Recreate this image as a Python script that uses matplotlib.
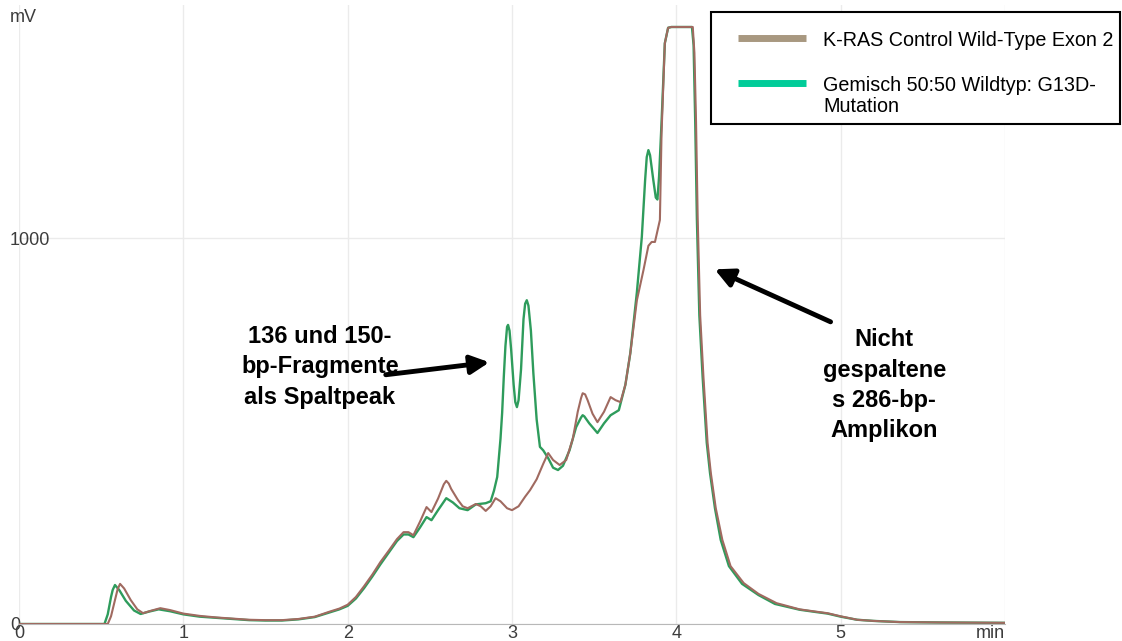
import matplotlib.pyplot as plt
from matplotlib.patches import Rectangle
from matplotlib.lines import Line2D

plt.rcParams['font.family'] = ['Liberation Sans', 'DejaVu Sans']

# Chromatogram: K-RAS control (wild type)
t_control = [0.00, 0.54, 0.56, 0.58, 0.60, 0.615, 0.64, 0.68, 0.72, 0.755, 0.80, 0.86, 0.92,
             1.00, 1.10, 1.20, 1.30, 1.40, 1.50, 1.60, 1.70, 1.80, 1.89, 1.95, 2.00, 2.05,
             2.10, 2.15, 2.20, 2.25, 2.30, 2.34, 2.37, 2.40, 2.44, 2.48, 2.51, 2.55, 2.585,
             2.60, 2.615, 2.63, 2.67, 2.70, 2.73, 2.78, 2.81, 2.84, 2.87, 2.90, 2.93, 2.97,
             3.00, 3.04, 3.08, 3.11, 3.15, 3.19, 3.22, 3.25, 3.29, 3.33, 3.37, 3.40, 3.42,
             3.43, 3.445, 3.46, 3.49, 3.52, 3.56, 3.60, 3.63, 3.66, 3.69, 3.72, 3.76, 3.80,
             3.83, 3.85, 3.87, 3.90, 3.91, 3.93, 3.95, 3.97, 4.00, 4.10, 4.11, 4.12, 4.13,
             4.145, 4.165, 4.19, 4.21, 4.24, 4.28, 4.33, 4.41, 4.50, 4.61, 4.75, 4.85,
             4.92, 5.00, 5.10, 5.20, 5.36, 5.60, 6.00]
mv_control = [0, 0, 20, 55, 90, 104, 92, 62, 38, 28, 34, 41, 36,
              27, 21, 17, 14, 11, 10, 10, 13, 19, 32, 40, 50, 70,
              98, 128, 161, 190, 220, 238, 238, 230, 265, 303, 290, 325, 362,
              371, 364, 350, 322, 305, 300, 311, 305, 293, 305, 326, 318, 300,
              295, 305, 330, 347, 375, 415, 443, 425, 412, 425, 480, 550, 585,
              598, 595, 580, 545, 523, 550, 588, 580, 575, 620, 702, 839, 917,
              980, 990, 990, 1047, 1272, 1505, 1545, 1547, 1547, 1547, 1480, 1300, 1050,
              800, 640, 470, 391, 300, 218, 150, 106, 78, 54, 38, 32,
              28, 20, 11, 8, 5, 4, 3]

# Chromatogram: 50:50 mixture wild type / G13D
t_mix = [0.00, 0.52, 0.54, 0.56, 0.57, 0.584, 0.61, 0.65, 0.70, 0.74, 0.79, 0.85, 0.92,
         1.00, 1.10, 1.20, 1.30, 1.40, 1.50, 1.60, 1.70, 1.80, 1.89, 1.95, 2.00, 2.05,
         2.10, 2.15, 2.20, 2.25, 2.30, 2.34, 2.37, 2.40, 2.44, 2.48, 2.51, 2.55, 2.60,
         2.64, 2.68, 2.73, 2.78, 2.84, 2.87, 2.89, 2.91, 2.93, 2.94, 2.95, 2.96, 2.97,
         2.976, 2.985, 2.995, 3.01, 3.02, 3.03, 3.04, 3.055, 3.07, 3.08, 3.09, 3.10, 3.115,
         3.13, 3.15, 3.17, 3.19, 3.22, 3.25, 3.28, 3.31, 3.35, 3.39, 3.42, 3.43, 3.44,
         3.47, 3.52, 3.56, 3.60, 3.65, 3.69, 3.72, 3.76, 3.79, 3.81, 3.82, 3.83, 3.84,
         3.86, 3.875, 3.885, 3.895, 3.91, 3.93, 3.95, 3.97, 4.00, 4.095, 4.105, 4.115,
         4.125, 4.14, 4.16, 4.185, 4.205, 4.235, 4.27, 4.32, 4.40, 4.50, 4.60, 4.75,
         4.85, 4.92, 5.00, 5.10, 5.20, 5.36, 5.60, 6.00]
mv_mix = [0, 0, 25, 70, 88, 101, 88, 60, 35, 26, 32, 38, 33,
          25, 19, 16, 13, 10, 9, 9, 12, 18, 30, 38, 47, 66,
          93, 123, 155, 185, 215, 232, 232, 225, 250, 277, 269, 295, 326,
          315, 300, 295, 310, 313, 318, 345, 381, 480, 547, 640, 720, 770,
          775, 760, 710, 620, 575, 562, 580, 660, 790, 830, 839, 825, 760,
          650, 530, 459, 450, 430, 405, 399, 410, 450, 510, 535, 541, 538,
          520, 495, 520, 541, 554, 620, 702, 860, 1003, 1150, 1210, 1228, 1215,
          1150, 1105, 1100, 1160, 1300, 1505, 1545, 1547, 1547, 1547, 1500, 1300,
          1050, 800, 640, 470, 391, 300, 218, 150, 104, 75, 52, 37,
          31, 27, 19, 11, 8, 5, 4, 3]

x_ticks = [0, 1, 2, 3, 4, 5, 6]
x_labels = ['0', '1', '2', '3', '4', '5', 'min']
y_ticks = [0, 1000]
y_labels = ['0', '1000']

legend_labels = ['K-RAS Control Wild-Type Exon 2', 'Gemisch 50:50 Wildtyp: G13D-\nMutation']
legend_colors = ['#a89880', '#00cc99']

W, H = 1122, 641
fig = plt.figure(figsize=(W / 100, H / 100), dpi=100)
ax = fig.add_axes([19 / W, 17 / H, 986 / W, 619 / H])
ax.set_xlim(0, 6)
ax.set_ylim(0, 1604)

ax.plot(t_mix, mv_mix, color='#2e9c5c', lw=1.7, zorder=3)
ax.plot(t_control, mv_control, color='#a06a60', lw=1.5, zorder=4)

# grid and axes styling
for s in ['top', 'right', 'left']:
    ax.spines[s].set_visible(False)
ax.spines['bottom'].set_color('#b8b8b8')
ax.set_xticks(x_ticks)
ax.set_xticklabels(x_labels)
ax.set_yticks(y_ticks)
ax.set_yticklabels(y_labels)
ax.tick_params(axis='x', length=0, pad=0.5, labelsize=13, labelcolor='#3c3c3c')
ax.tick_params(axis='y', length=0, pad=6.5, labelsize=13, labelcolor='#3c3c3c')
for lbl in ax.get_yticklabels():
    lbl.set_ha('left')
ax.get_xticklabels()[-1].set_ha('right')
ax.grid(True, color='#ebebeb', lw=1)
ax.set_axisbelow(True)
fig.text(10 / W, 1 - 18 / H, 'mV', fontsize=13, color='#3c3c3c', va='center', ha='left')

# annotations
ax.annotate('', xy=(2.879, 679), xytext=(2.215, 645),
            arrowprops=dict(arrowstyle='-|>', color='black', lw=3.5, mutation_scale=28))
ax.text(1.832, 666, '136 und 150-\nbp-Fragmente\nals Spaltpeak', fontsize=17, fontweight='bold',
        ha='center', va='center', linespacing=1.4)
ax.annotate('', xy=(4.218, 922), xytext=(4.954, 780),
            arrowprops=dict(arrowstyle='-|>', color='black', lw=3.5, mutation_scale=28))
ax.text(5.265, 619, 'Nicht\ngespaltene\ns 286-bp-\nAmplikon', fontsize=17, fontweight='bold',
        ha='center', va='center', linespacing=1.4)

# legend box
fig.add_artist(Rectangle((711 / W, 1 - 124 / H), (W - 2 - 711) / W, 112 / H,
                         transform=fig.transFigure, facecolor='white', edgecolor='black', lw=1.5))
for i, (lab, col) in enumerate(zip(legend_labels, legend_colors)):
    yy = 1 - (38 + 45 * i) / H
    fig.add_artist(Line2D([738 / W, 806 / W], [yy, yy], transform=fig.transFigure,
                          color=col, lw=5, solid_capstyle='butt'))
    fig.text(823 / W, yy + 7 / H, lab, fontsize=14.2, va='top', ha='left', color='black',
             linespacing=1.15, transform=fig.transFigure)

fig.savefig('out.png', dpi=100)
